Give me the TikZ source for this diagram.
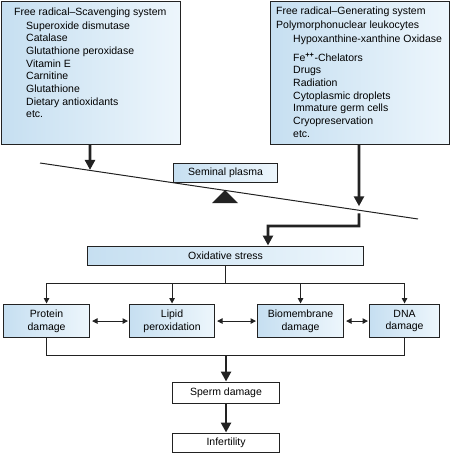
\documentclass[tikz,border=0pt]{standalone}
\usepackage{fontspec}
\setmainfont{Liberation Sans}
\usetikzlibrary{arrows.meta,calc}
\definecolor{boxL}{HTML}{C6DFF1}
\definecolor{boxR}{HTML}{EDF6FC}
\definecolor{ink}{HTML}{222222}
\begin{document}
\begin{tikzpicture}[x=1pt,y=-1pt,
  font=\fontsize{10.5}{12.7}\selectfont,
  bx/.style={draw=ink, line width=1.1pt, left color=boxL, right color=boxR, inner sep=0pt, align=center, anchor=north west},
  wbx/.style={draw=ink, line width=1.1pt, fill=white, inner sep=0pt, align=center, anchor=north west},
  txt/.style={anchor=base west, inner sep=0pt},
  thk/.style={draw=ink, line width=2.6pt, -{Triangle[length=10pt,width=10pt]}},
  thn/.style={draw=ink, line width=1pt, -{Triangle[length=5.5pt,width=5.5pt]}},
  thnline/.style={draw=ink, line width=1pt},
  dbl/.style={draw=ink, line width=1pt, {Triangle[length=5.5pt,width=5.5pt]}-{Triangle[length=5.5pt,width=5.5pt]}, shorten <=2pt, shorten >=1pt}]
\useasboundingbox (0,0) rectangle (450,453);

% top boxes
\node[bx, minimum width=179pt, minimum height=143pt] (scav) at (1,1) {};
\node[bx, minimum width=179pt, minimum height=143pt] (gen) at (270,1) {};

\node[txt] (scavt) at (14,15) {Free radical–Scavenging system};
\foreach \t [count=\i from 0] in {Superoxide dismutase, Catalase, Glutathione peroxidase, Vitamin E, Carnitine, Glutathione, Dietary antioxidants, etc.}
  \node[txt] (sc\i) at (26,{29+12.7*\i}) {\t};

\node[txt] (gent) at (276,14) {Free radical–Generating system};
\node[txt] (gen1) at (276,28) {Polymorphonuclear leukocytes};
\node[txt] (gen2) at (293,42) {Hypoxanthine-xanthine Oxidase};
\foreach \t [count=\i from 0] in {{Fe\textsuperscript{\textbf{++}}-Chelators}, Drugs, Radiation, Cytoplasmic droplets, Immature germ cells, Cryopreservation, etc.}
  \node[txt] (gi\i) at (293,{61+12.7*\i}) {\t};

% balance
\coordinate (bA) at (40,163);
\coordinate (bB) at (418,219);
\draw[ink, line width=1pt] (bA) -- (bB);
\coordinate (pl) at ($(bA)!50/378!(bB)$);
\coordinate (pr) at ($(bA)!319/378!(bB)$);
\coordinate (xl) at (90,0);
\coordinate (xr) at (359,0);
\fill[ink] (225,190) -- (212,203) -- (238,203) -- cycle;
\node[bx, minimum width=104pt, minimum height=19pt] (sem) at (173,163) {Seminal plasma};

\draw[thk, shorten >=0.5pt] (scav.south -| xl) -- (pl);
\draw[thk, shorten >=4pt] (gen.south -| xr) -- (pr);

% oxidative stress
\node[bx, minimum width=276pt, minimum height=19pt] (ox) at (87,246) {Oxidative stress};
\coordinate (k1) at (359,226);
\coordinate (k2) at (268,226);
\draw[thk, shorten >=0.5pt] ($(pr)+(0,3)$) -- (k1) -- (k2) -- (ox.north -| k2);

% damage boxes
\node[bx, minimum width=86pt, minimum height=33pt] (prot) at (3,304) {Protein\\damage};
\node[bx, minimum width=85pt, minimum height=33pt] (lip) at (129,304) {Lipid\\peroxidation};
\node[bx, minimum width=86pt, minimum height=33pt] (bio) at (257,304) {Biomembrane\\damage};
\node[bx, minimum width=70pt, minimum height=33pt] (dna) at (369,304) {DNA\\damage};

\coordinate (hb) at (0,283);
\draw[thnline] (ox.south) -- (ox.south |- hb);
\draw[thnline] (prot.north |- hb) -- (dna.north |- hb);
\foreach \n in {prot,lip,bio,dna}
  \draw[thn, shorten >=0.5pt] (\n.north |- hb) -- (\n.north);

\draw[dbl] (prot.east) -- (lip.west);
\draw[dbl] (lip.east) -- (bio.west);
\draw[dbl] (bio.east) -- (dna.west);

% bottom
\coordinate (hc) at (0,355);
\node[wbx, minimum width=107pt, minimum height=21pt] (sperm) at (172,382) {Sperm damage};
\node[wbx, minimum width=107pt, minimum height=19pt] (inf) at (172,433) {Infertility};
\draw[thnline] (prot.south) -- (prot.south |- hc) -- (dna.south |- hc) -- (dna.south);
\draw[thk, shorten >=0.5pt] (sperm.north |- hc) -- (sperm.north);
\draw[thk, shorten >=0.5pt] (sperm.south) -- (inf.north);
\end{tikzpicture}
\end{document}
